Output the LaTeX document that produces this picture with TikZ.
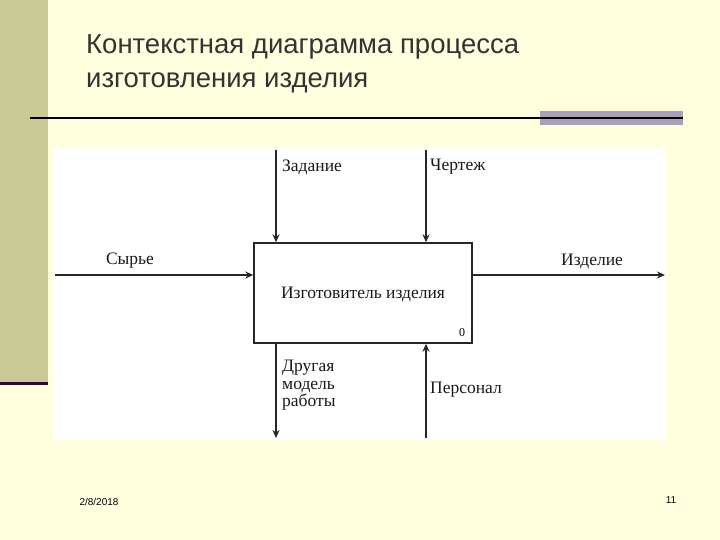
\documentclass[tikz,border=0pt]{standalone}
\usepackage{fontspec}
\setmainfont{Liberation Sans}
\newfontfamily\dserif{Liberation Serif}
\usetikzlibrary{arrows.meta}
\definecolor{bgy}{HTML}{FFFFE0}
\definecolor{olive}{HTML}{CACA96}
\definecolor{dpurp}{HTML}{2A0A30}
\definecolor{gbar}{HTML}{A8A0B4}
\begin{document}
\begin{tikzpicture}[x=1pt,y=-1pt,
  arr/.style={draw=black!85,line width=1.4pt,-{Stealth[length=8pt,width=7pt]}},
  lab/.style={font=\dserif\fontsize{17.5}{18}\selectfont,text=black!90,inner sep=0pt}]
\fill[bgy] (0,0) rectangle (720,540);
\useasboundingbox (0,0) rectangle (720,540);
\fill[olive] (0,0) rectangle (48,382);
\fill[dpurp] (0,382) rectangle (48,385);
\fill[gbar] (540,111) rectangle (683,125);
\draw[line width=1.5pt,black] (30,118) -- (683,118);
\node[anchor=base west,font=\fontsize{27.5}{30}\selectfont,text=black!80,inner sep=0pt] (t1) at (86,54) {Контекстная диаграмма процесса};
\node[anchor=base west,font=\fontsize{27.5}{30}\selectfont,text=black!80,inner sep=0pt] (t2) at (86,88) {изготовления изделия};
\fill[white] (53,148) rectangle (665,440);
\node[draw=black!85,line width=1.4pt,minimum width=218pt,minimum height=100pt,inner sep=0pt] (box) at (363,293) {};
\node[lab] (bl) at (363,294) {Изготовитель изделия};
\node[font=\dserif\fontsize{12}{12}\selectfont,inner sep=0pt] (z) at (462,333) {0};
\coordinate (a1) at (276,150); \coordinate (a2) at (426,150);
\coordinate (a3) at (55,275); \coordinate (a4) at (665,275);
\coordinate (a5) at (276,438); \coordinate (a6) at (426,438);
\draw[arr] (a1) -- (a1 |- box.north);
\draw[arr] (a2) -- (a2 |- box.north);
\draw[arr] (a3) -- (a3 -| box.west);
\draw[arr] (box.east |- a4) -- (a4);
\draw[arr] (box.south -| a5) -- (a5);
\draw[arr] (a6) -- (a6 |- box.south);
\node[lab,anchor=west] (l1) at (282,167) {Задание};
\node[lab,anchor=west] (l2) at (430,167) {Чертеж};
\node[lab] (l3) at (130,261) {Сырье};
\node[lab] (l4) at (592,261) {Изделие};
\node[lab,anchor=north west,align=left,font=\dserif\fontsize{17.5}{17.5}\selectfont] (l5) at (282,360) {Другая\\модель\\работы};
\node[lab,anchor=west] (l6) at (430,390) {Персонал};
\node[font=\fontsize{10}{11}\selectfont,inner sep=0pt] (d) at (99,502) {2/8/2018};
\node[font=\fontsize{10}{11}\selectfont,inner sep=0pt] (p) at (671,500) {11};
\end{tikzpicture}
\end{document}
